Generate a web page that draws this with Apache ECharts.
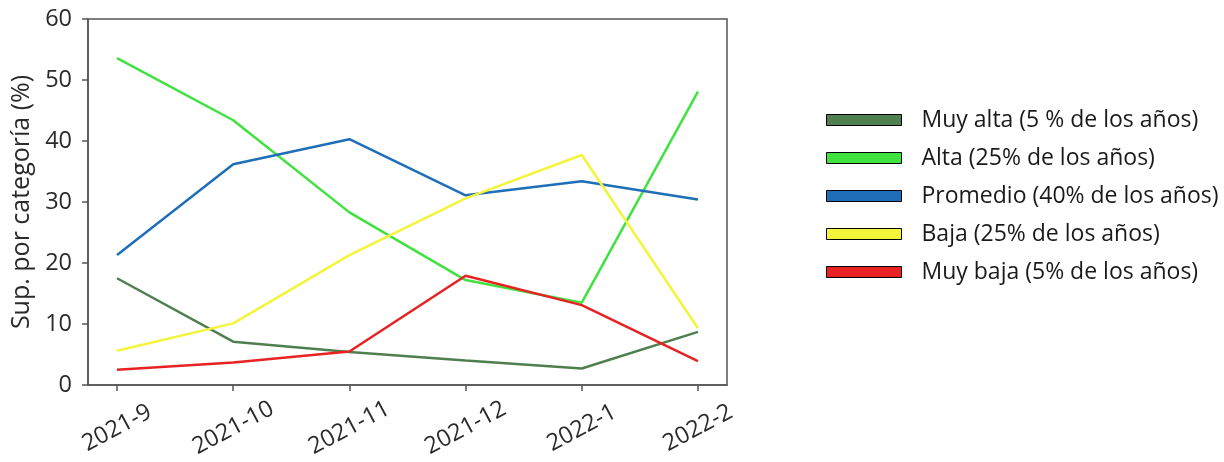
<!DOCTYPE html>
<html>
<head>
<meta charset="utf-8">
<script src="https://cdn.jsdelivr.net/npm/echarts@6/dist/echarts.min.js"></script>
<style>
  html, body { margin: 0; padding: 0; background: #ffffff; }
  #chart { width: 1224px; height: 462px; }
</style>
</head>
<body>
<div id="chart"></div>
<script>
// Monthly share of surface per category (%)
const categories = ['2021-9', '2021-10', '2021-11', '2021-12', '2022-1', '2022-2'];
const seriesNames = [
  'Muy alta (5 % de los años)',
  'Alta (25% de los años)',
  'Promedio (40% de los años)',
  'Baja (25% de los años)',
  'Muy baja (5% de los años)'
];
const muyAlta  = [17.5, 7.1, 5.4, 4.0, 2.7, 8.7];
const alta     = [53.6, 43.4, 28.3, 17.2, 13.5, 48.1];
const promedio = [21.3, 36.2, 40.3, 31.1, 33.4, 30.4];
const baja     = [5.6, 10.1, 21.3, 30.6, 37.7, 9.3];
const muyBaja  = [2.5, 3.7, 5.5, 17.9, 13.1, 3.9];
const yTicks   = [0, 10, 20, 30, 40, 50, 60];

const colors = ['#4f7f4f', '#3fe23f', '#1f6fb8', '#f4f43a', '#e82222'];
const values = [muyAlta, alta, promedio, baja, muyBaja];
const tickIdx = categories.map((_, i) => i);

const axisFont = { fontFamily: 'Open Sans', fontSize: 23.5, color: '#2a2a2a' };

const chart = echarts.init(document.getElementById('chart'), null, { renderer: 'canvas' });
chart.setOption({
  animation: false,
  backgroundColor: '#ffffff',
  grid: {
    left: 88, right: 497, top: 19, bottom: 77,
    outerBoundsMode: 'none',
    containLabel: false,
    show: true, borderColor: '#555555', borderWidth: 1.5, backgroundColor: 'transparent'
  },
  legend: {
    orient: 'vertical',
    left: 826,
    top: 108,
    padding: 0,
    icon: 'rect',
    itemWidth: 75,
    itemHeight: 11,
    itemGap: 14,
    itemStyle: { borderColor: '#000000', borderWidth: 1 },
    textStyle: { fontFamily: 'Open Sans', fontSize: 23, color: '#1a1a1a', padding: [0, 0, 0, 15], lineHeight: 24 },
    data: seriesNames
  },
  xAxis: {
    type: 'value',
    min: -0.25,
    max: 5.25,
    splitLine: { show: false },
    axisLine: { onZero: false, lineStyle: { color: '#555555', width: 1.5 } },
    axisTick: { show: true, length: 6, inside: false, customValues: tickIdx, lineStyle: { color: '#555555', width: 1.5 } },
    axisLabel: Object.assign({
      customValues: tickIdx,
      rotate: 28,
      align: 'center',
      verticalAlign: 'middle',
      margin: 43,
      formatter: v => categories[Math.round(v)] || ''
    }, axisFont)
  },
  yAxis: {
    type: 'value',
    min: yTicks[0],
    max: yTicks[yTicks.length - 1],
    interval: 10,
    name: 'Sup. por categoría (%)',
    nameLocation: 'middle',
    nameGap: 52,
    nameTextStyle: Object.assign({}, axisFont, { fontSize: 25 }),
    splitLine: { show: false },
    axisLine: { show: true, onZero: false, lineStyle: { color: '#555555', width: 1.5 } },
    axisTick: { show: true, length: 6, lineStyle: { color: '#555555', width: 1.5 } },
    axisLabel: Object.assign({ margin: 16 }, axisFont)
  },
  series: seriesNames.map((name, s) => ({
    name: name,
    type: 'line',
    color: colors[s],
    showSymbol: false,
    lineStyle: { width: 2.5, color: colors[s] },
    data: values[s].map((v, i) => [i, v])
  }))
});
</script>
</body>
</html>
